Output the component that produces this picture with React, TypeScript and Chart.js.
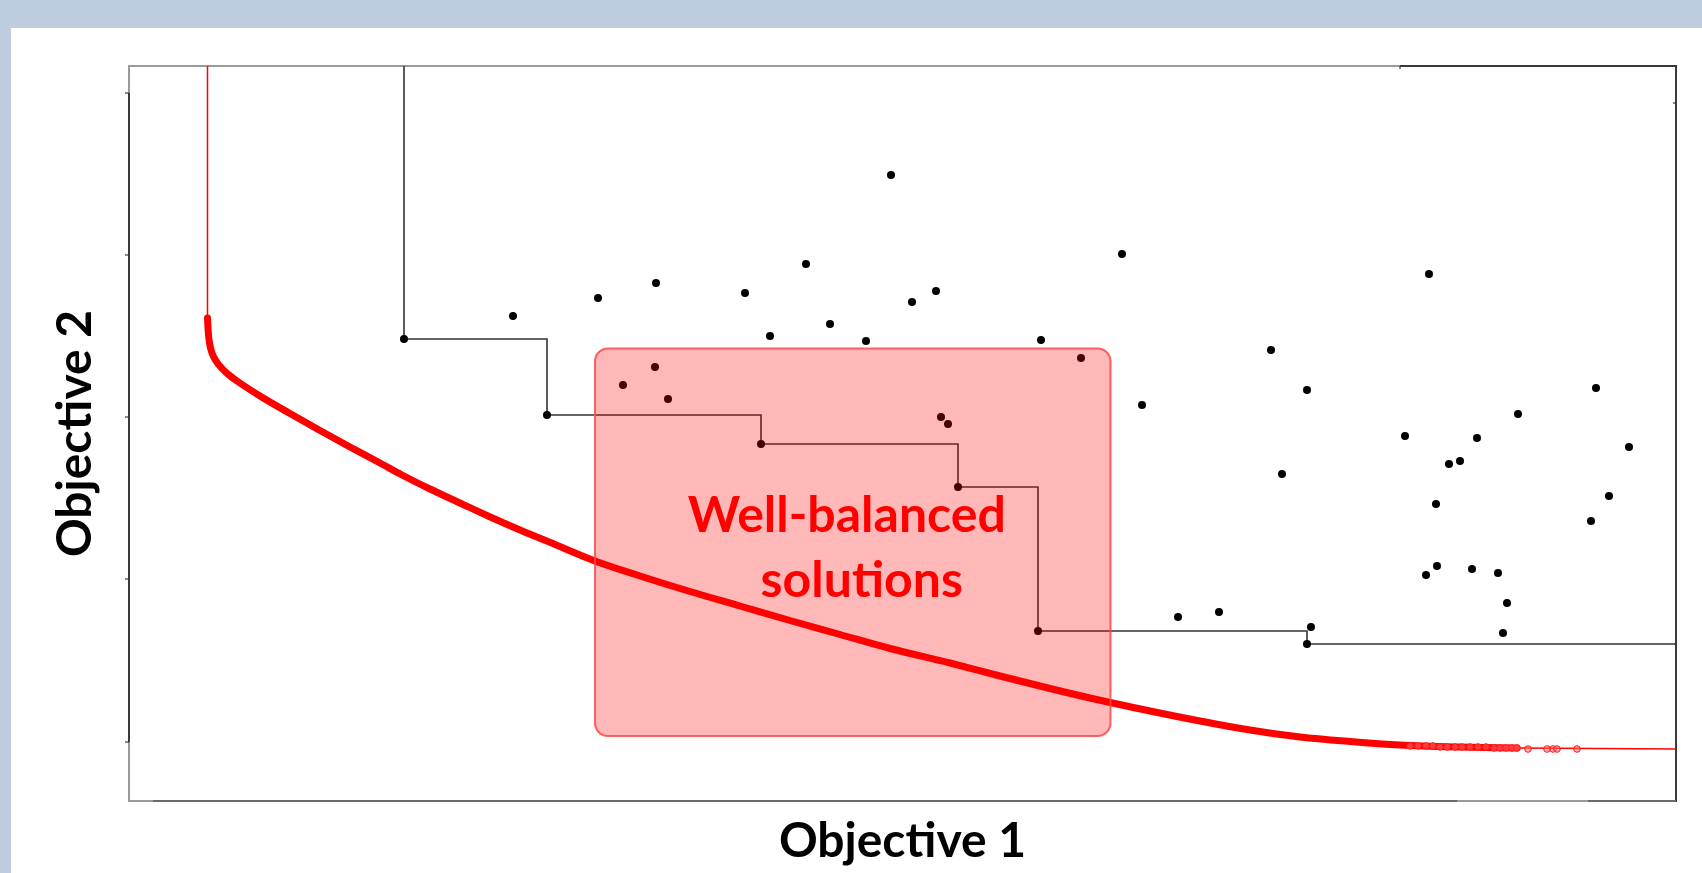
import React, { useEffect, useRef } from "react";
import { Chart, registerables } from "chart.js";

Chart.register(...registerables);

// Axis extents (arbitrary objective units)
const X_MIN = 0;
const X_MAX = 1547;
const Y_MIN = 0;
const Y_MAX = 735;

// Red frontier (thick part)
const frontierX = [78.5, 79.2, 80.5, 83, 87, 93, 100, 108, 131, 161, 191, 221, 251, 273, 301, 331, 359, 391, 426, 466, 511, 561, 611, 661, 711, 761, 821, 871, 921, 961, 1021, 1071, 1121, 1171, 1221, 1271, 1331, 1388];
const frontierY = [483, 470, 458, 448, 440, 432.5, 426, 420, 405, 387.5, 370.5, 354, 338, 326, 312, 298, 285, 271, 256.5, 240, 225, 209.5, 195, 180.5, 166.5, 152.5, 138, 125, 112.5, 103, 90, 80, 71, 64, 59.5, 56, 54, 53];
// Thin extensions of the frontier
const frontierHeadX = [78.5, 78.5];
const frontierHeadY = [735, 483];
const frontierTailX = [1388, 1547];
const frontierTailY = [53, 52];
// Individual frontier markers visible near the tail
const tailMarkerX = [1281, 1289, 1297, 1304, 1311, 1318, 1326, 1333, 1341, 1349, 1357, 1365, 1371, 1377, 1383, 1388, 1399, 1418, 1424, 1428, 1448];
const tailMarkerY = [55, 55, 55, 55, 54, 54, 54, 54, 54, 54, 54, 53, 53, 53, 53, 53, 52, 52, 52, 52, 52];

// Non-dominated black solutions (staircase corners)
const stepX = [275, 418, 632, 829, 909, 1178];
const stepY = [462, 386, 357, 314, 170, 157];

// Other black solutions
const dotX = [384, 469, 527, 616, 677, 641, 701, 737, 526, 494, 539, 762, 783, 807, 912, 952, 993, 812, 819, 1013, 1142, 1178, 1153, 1300, 1276, 1348, 1389, 1320, 1331, 1307, 1467, 1500, 1480, 1462, 1308, 1297, 1343, 1369, 1378, 1374, 1182, 1049, 1090];
const dotY = [485, 503, 518, 508, 537, 465, 477, 460, 434, 416, 402, 626, 499, 510, 461, 443, 547, 384, 377, 396, 451, 411, 327, 527, 365, 363, 387, 337, 340, 297, 413, 354, 305, 280, 235, 226, 232, 228, 198, 168, 174, 184, 189];

// Highlight box (data units)
const boxX = [466, 981.5];
const boxY = [65, 452.6];
const boxLines = ["Well-balanced", "solutions"];

// Frame tick marks
const yTickValues = [59, 222, 384, 546, 708];
const topTickValues = [1271];
const rightTickValues = [698];
const bottomBreaks = [24, 1328, 1459];

const BAND = "#BDCDDF";
const TITLE_FONT = "Lato";

const toPts = (xs: number[], ys: number[]) => xs.map((x, i) => ({ x, y: ys[i] }));

const bgPlugin = {
  id: "bgPlugin",
  beforeDraw(chart: any) {
    const { ctx, width, height } = chart;
    ctx.save();
    ctx.fillStyle = "#ffffff";
    ctx.fillRect(0, 0, width, height);
    ctx.fillStyle = BAND;
    ctx.fillRect(0, 0, width, 28);
    ctx.fillRect(0, 0, 11, height);
    ctx.restore();
  },
};

const framePlugin = {
  id: "framePlugin",
  beforeDatasetsDraw(chart: any) {
    const { ctx, chartArea: a, scales } = chart;
    const xs = scales.x;
    const ys = scales.y;
    const LIGHT = "#9a9a9a";
    const MID = "#6a6a6a";
    const DARK = "#3a3a3a";
    ctx.save();
    ctx.lineWidth = 2;
    const seg = (x1: number, y1: number, x2: number, y2: number, c: string) => {
      ctx.strokeStyle = c;
      ctx.beginPath();
      ctx.moveTo(x1, y1);
      ctx.lineTo(x2, y2);
      ctx.stroke();
    };
    const yLo = ys.getPixelForValue(yTickValues[0]);
    const yHi = ys.getPixelForValue(yTickValues[yTickValues.length - 1]);
    seg(a.left, a.top - 1, a.left, yHi, LIGHT);
    seg(a.left, yHi, a.left, yLo, DARK);
    seg(a.left, yLo, a.left, a.bottom + 1, LIGHT);
    const xt = xs.getPixelForValue(topTickValues[0]);
    seg(a.left, a.top, xt, a.top, LIGHT);
    seg(xt, a.top, a.right + 1, a.top, DARK);
    seg(a.right, a.top, a.right, a.bottom + 1, DARK);
    const b0 = xs.getPixelForValue(bottomBreaks[0]);
    const b1 = xs.getPixelForValue(bottomBreaks[1]);
    const b2 = xs.getPixelForValue(bottomBreaks[2]);
    seg(a.left, a.bottom, b0, a.bottom, LIGHT);
    seg(b0, a.bottom, b1, a.bottom, MID);
    seg(b1, a.bottom, b2, a.bottom, LIGHT);
    seg(b2, a.bottom, a.right, a.bottom, MID);
    // tick marks
    ctx.lineWidth = 1.2;
    yTickValues.forEach((v) => {
      const p = ys.getPixelForValue(v);
      seg(a.left - 4, p, a.left, p, DARK);
    });
    topTickValues.forEach((v) => {
      const p = xs.getPixelForValue(v);
      seg(p, a.top, p, a.top + 3, DARK);
    });
    rightTickValues.forEach((v) => {
      const p = ys.getPixelForValue(v);
      seg(a.right - 3, p, a.right, p, DARK);
    });
    ctx.restore();
  },
};

const boxPlugin = {
  id: "boxPlugin",
  afterDatasetsDraw(chart: any) {
    const { ctx, scales } = chart;
    const xs = scales.x;
    const ys = scales.y;
    const l = xs.getPixelForValue(boxX[0]);
    const r = xs.getPixelForValue(boxX[1]);
    const t = ys.getPixelForValue(boxY[1]);
    const b = ys.getPixelForValue(boxY[0]);
    ctx.save();
    ctx.beginPath();
    ctx.roundRect(l, t, r - l, b - t, 13);
    ctx.fillStyle = "rgba(255,0,0,0.28)";
    ctx.fill();
    ctx.lineWidth = 2;
    ctx.strokeStyle = "rgba(255,70,70,0.85)";
    ctx.stroke();
    ctx.fillStyle = "#FF0000";
    ctx.font = `bold 50px ${TITLE_FONT}`;
    ctx.textAlign = "center";
    ctx.textBaseline = "alphabetic";
    const cx = (l + r) / 2;
    ctx.fillText(boxLines[0], cx - 6, t + 184);
    ctx.fillText(boxLines[1], cx + 9, t + 249);
    ctx.restore();
  },
};

export default function App() {
  const ref = useRef<HTMLCanvasElement | null>(null);
  useEffect(() => {
    if (!ref.current) return;
    const staircase = [
      { x: stepX[0], y: Y_MAX },
      ...toPts(stepX, stepY),
      { x: X_MAX, y: stepY[stepY.length - 1] },
    ];
    const chart = new Chart(ref.current, {
      type: "scatter",
      data: {
        datasets: [
          {
            label: "solutions",
            data: [...toPts(stepX, stepY), ...toPts(dotX, dotY)],
            pointRadius: 4,
            pointBackgroundColor: "#000000",
            pointBorderWidth: 0,
            showLine: false,
          },
          {
            label: "attainment",
            data: staircase,
            showLine: true,
            stepped: "before",
            borderColor: "#333333",
            borderWidth: 1.6,
            pointRadius: 0,
          },
          {
            label: "tail markers",
            data: toPts(tailMarkerX, tailMarkerY),
            pointRadius: 3.3,
            pointBackgroundColor: "rgba(255,110,110,0.55)",
            pointBorderColor: "#ff1a1a",
            pointBorderWidth: 1,
            showLine: false,
          },
          {
            label: "frontier",
            data: toPts(frontierX, frontierY),
            showLine: true,
            borderColor: "#FF0000",
            borderWidth: 7,
            borderCapStyle: "round",
            borderJoinStyle: "round",
            cubicInterpolationMode: "monotone",
            pointRadius: 0,
          },
          {
            label: "frontier head",
            data: toPts(frontierHeadX, frontierHeadY),
            showLine: true,
            borderColor: "#FF0000",
            borderWidth: 1.5,
            pointRadius: 0,
          },
          {
            label: "frontier tail",
            data: toPts(frontierTailX, frontierTailY),
            showLine: true,
            borderColor: "#FF0000",
            borderWidth: 1.5,
            pointRadius: 0,
          },
        ],
      },
      options: {
        animation: false,
        responsive: false,
        devicePixelRatio: 1,
        events: [],
        layout: { padding: { left: 11, top: 66, right: 26, bottom: 0 } },
        plugins: { legend: { display: false }, tooltip: { enabled: false } },
        scales: {
          x: {
            type: "linear",
            min: X_MIN,
            max: X_MAX,
            ticks: { display: false },
            grid: { display: false },
            border: { display: false },
            title: {
              display: true,
              text: "Objective 1",
              color: "#000000",
              font: { family: TITLE_FONT, size: 48, weight: "bold" },
              padding: { top: 0, bottom: 3 },
            },
            afterFit: (s: any) => {
              s.height = 72;
            },
          },
          y: {
            type: "linear",
            min: Y_MIN,
            max: Y_MAX,
            ticks: { display: false },
            grid: { display: false },
            border: { display: false },
            title: {
              display: true,
              text: "Objective 2",
              color: "#000000",
              font: { family: TITLE_FONT, size: 48, weight: "bold" },
              padding: { top: 36, bottom: 0 },
            },
            afterFit: (s: any) => {
              s.width = 118;
            },
          },
        },
      },
      plugins: [bgPlugin, framePlugin, boxPlugin],
    } as any);
    return () => chart.destroy();
  }, []);
  return (
    <div style={{ position: "fixed", left: 0, top: 0, width: 1702, height: 873, background: "#fff" }}>
      <canvas ref={ref} width={1702} height={873} style={{ display: "block", width: 1702, height: 873 }} />
    </div>
  );
}
